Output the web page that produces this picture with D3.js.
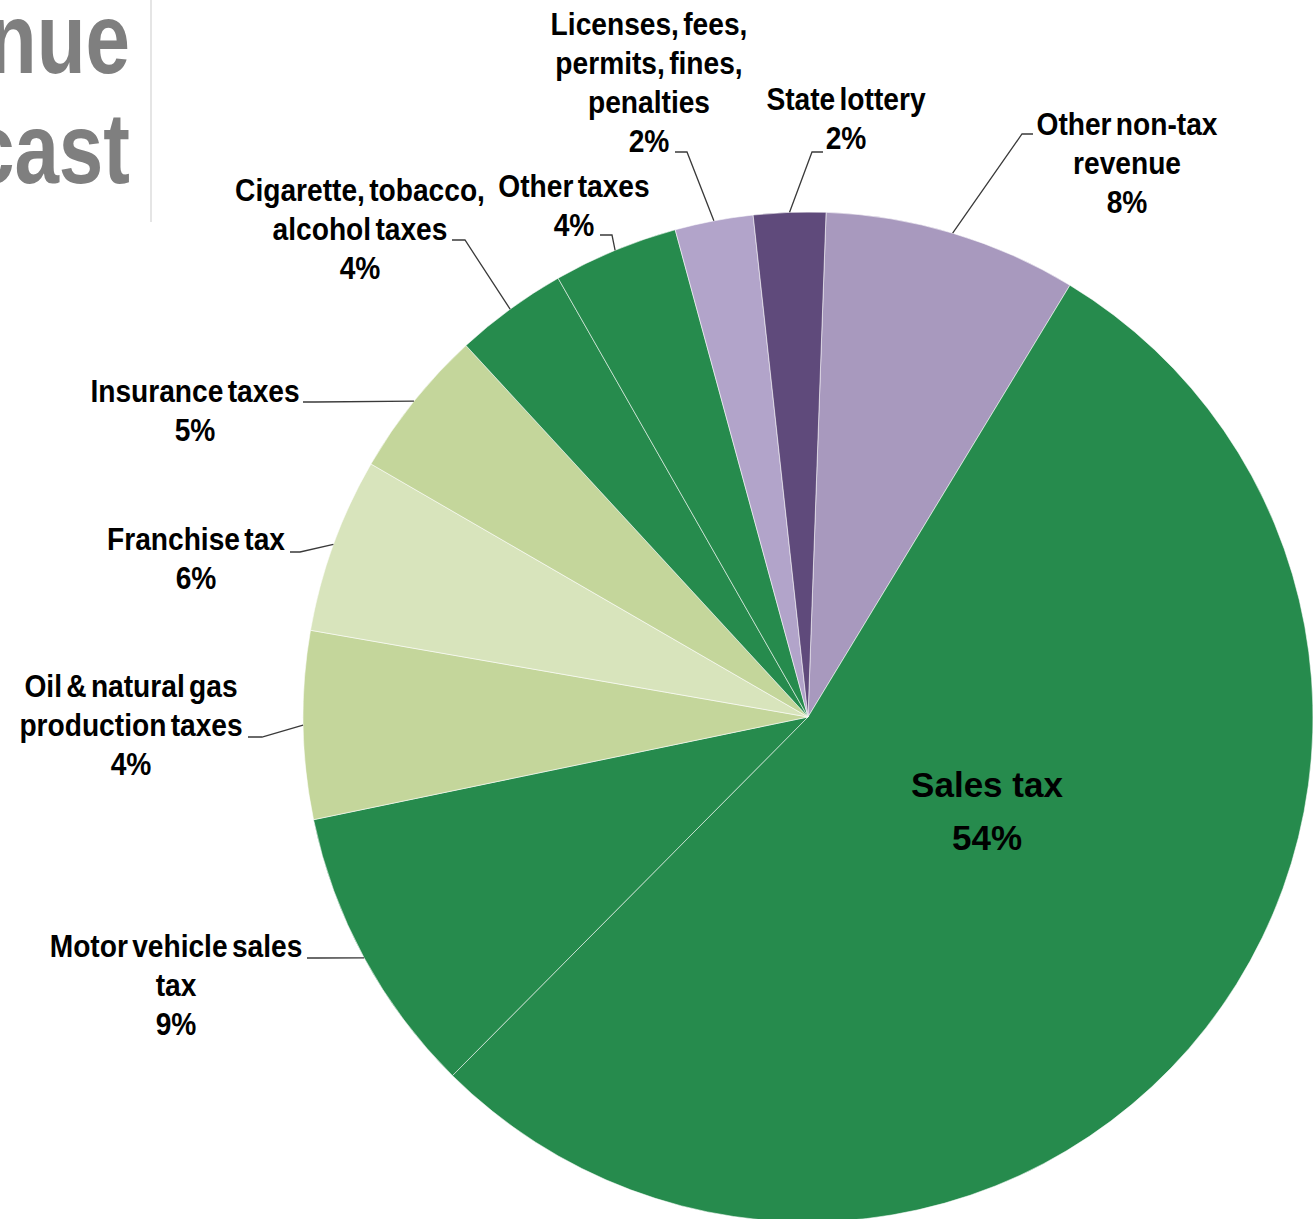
<!DOCTYPE html>
<html>
<head>
<meta charset="utf-8">
<script src="https://cdn.jsdelivr.net/npm/d3@7"></script>
<style>
  html, body { margin: 0; padding: 0; background: #ffffff; }
  svg { display: block; }
</style>
</head>
<body>
<svg id="chart" width="1315" height="1219"></svg>
<script>
// ---- Data ----
const categories = [
  "Other non-tax revenue", "Sales tax", "Motor vehicle sales tax",
  "Oil & natural gas production taxes", "Franchise tax", "Insurance taxes",
  "Cigarette, tobacco, alcohol taxes", "Other taxes",
  "Licenses, fees, permits, fines, penalties", "State lottery"
];
const values = [8.1, 53.7, 9.3, 6.0, 5.6, 4.8, 3.6, 4.0, 2.5, 2.3];
const percentLabels = ["8%", "54%", "9%", "4%", "6%", "5%", "4%", "4%", "2%", "2%"];
const labelLines = [
  ["Other non-tax", "revenue"],
  ["Sales tax"],
  ["Motor vehicle sales", "tax"],
  ["Oil & natural gas", "production taxes"],
  ["Franchise tax"],
  ["Insurance taxes"],
  ["Cigarette, tobacco,", "alcohol taxes"],
  ["Other taxes"],
  ["Licenses, fees,", "permits, fines,", "penalties"],
  ["State lottery"]
];
const titleFragments = ["nue", "cast"];

// ---- Styles / layout ----
const colors = ["#a899be", "#268b4d", "#268b4d", "#c4d69b", "#d8e4bc",
                "#c4d69b", "#268b4d", "#268b4d", "#b2a4ca", "#5f4a7b"];
const layout = [
  { x: 1127, y: 135, attach: [1033, 134], elbow: [1022, 134] },
  { x: 987,  y: 797, inside: true },
  { x: 176,  y: 957, attach: [307, 958], elbow: [318, 958] },
  { x: 131,  y: 697, attach: [248, 737], elbow: [262, 737] },
  { x: 196,  y: 550, attach: [290, 552], elbow: [300, 552] },
  { x: 195,  y: 402, attach: [303, 402], elbow: [315, 402] },
  { x: 360,  y: 201, attach: [452, 240], elbow: [465, 240] },
  { x: 574,  y: 197, attach: [600, 235], elbow: [612, 235] },
  { x: 649,  y: 35,  attach: [675, 152], elbow: [687, 152] },
  { x: 846,  y: 110, attach: [823, 152], elbow: [812, 152] }
];
const cx = 808, cy = 717, R = 505;
const startDeg = 2.05;
const lineGap = 39;
const labelFont = "'Liberation Sans', Arial, sans-serif";

const svg = d3.select("#chart");

// Title fragments (cut off at left edge in the original)
titleFragments.forEach((t, i) => {
  svg.append("text")
    .attr("transform", `translate(130, ${73 + i * 110}) scale(0.8, 1)`)
    .attr("text-anchor", "end")
    .attr("font-family", "'Liberation Sans', Arial, sans-serif")
    .attr("font-weight", "bold")
    .attr("font-size", 100)
    .attr("fill", "#7f7f7f")
    .text(t);
});
svg.append("line")
  .attr("x1", 151).attr("x2", 151).attr("y1", 0).attr("y2", 222)
  .attr("stroke", "#dcdcdc").attr("stroke-width", 1.5);

// Pie
const a0 = startDeg * Math.PI / 180;
const pie = d3.pie().sort(null).value(d => d).startAngle(a0).endAngle(a0 + 2 * Math.PI);
const arcs = pie(values);
const arc = d3.arc().innerRadius(0).outerRadius(R);
const edgeArc = d3.arc().innerRadius(R).outerRadius(R);

const g = svg.append("g").attr("transform", `translate(${cx},${cy})`);
g.selectAll("path.slice")
  .data(arcs)
  .join("path")
  .attr("class", "slice")
  .attr("d", arc)
  .attr("fill", (d, i) => colors[i])
  .attr("stroke", "rgba(255,255,255,0.55)")
  .attr("stroke-width", 1);

// Leader lines
arcs.forEach((d, i) => {
  const L = layout[i];
  if (L.inside) return;
  const c = edgeArc.centroid(d);
  const p0 = [cx + c[0], cy + c[1]];
  svg.append("path")
    .attr("d", d3.line()([p0, L.elbow, L.attach]))
    .attr("fill", "none")
    .attr("stroke", "#3a3a3a")
    .attr("stroke-width", 1.3);
});

// Labels
arcs.forEach((d, i) => {
  const L = layout[i];
  const lines = labelLines[i].concat([percentLabels[i]]);
  const sx = L.inside ? 1 : 0.88;
  const t = svg.append("text")
    .attr("transform", `translate(${L.x},${L.y}) scale(${sx},1)`)
    .attr("text-anchor", "middle")
    .attr("font-family", labelFont)
    .attr("font-weight", "bold")
    .attr("font-size", L.inside ? 35 : 32)
    .attr("word-spacing", L.inside ? 0 : -4)
    .attr("fill", "#000");
  const gap = L.inside ? 53 : lineGap;
  lines.forEach((ln, k) => {
    t.append("tspan").attr("x", 0).attr("y", k * gap).text(ln);
  });
});
</script>
</body>
</html>
